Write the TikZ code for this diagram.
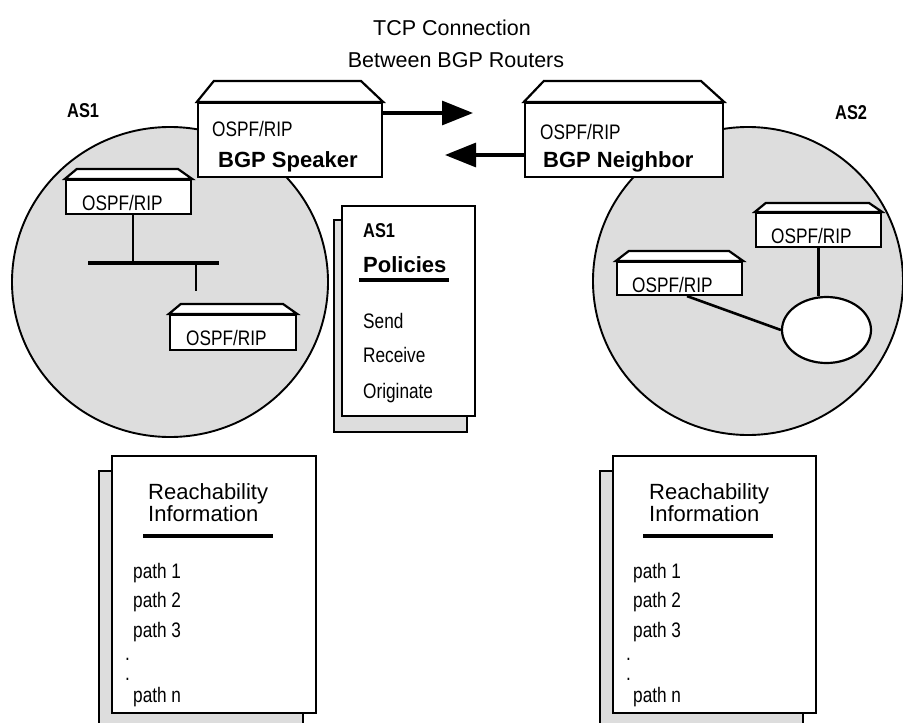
\documentclass[tikz,border=0pt]{standalone}
\usepackage{fontspec}
\setmainfont{Liberation Sans}
\newfontfamily\narrowfont[FakeStretch=0.82]{Liberation Sans}
\usetikzlibrary{arrows.meta,shapes.geometric}

\tikzset{
  area/.style={draw, line width=1.9pt, fill=gray!27},
  router/.style={draw, line width=2.2pt, fill=white, inner sep=0pt},
  sheet/.style={draw, line width=2.2pt, fill=white, inner sep=0pt},
  sheetshadow/.style={sheet, fill=gray!27},
  link/.style={line width=2.6pt},
  bus/.style={line width=3.4pt},
  thinlink/.style={line width=1.4pt},
  headrule/.style={line width=3.4pt},
  tcparrow/.style={line width=3.2pt, -{Triangle[length=31pt,width=24pt]}},
  txt/.style={inner sep=0pt, font=\fontsize{21.5}{24}\selectfont},
  lbl/.style={inner sep=0pt, anchor=base west, font=\narrowfont\fontsize{21}{24}\selectfont},
  boldlbl/.style={inner sep=0pt, anchor=base west, font=\bfseries\fontsize{22}{24}\selectfont},
  aslbl/.style={inner sep=0pt, anchor=base west, font=\narrowfont\bfseries\fontsize{20}{22}\selectfont},
  reachlbl/.style={inner sep=0pt, anchor=base west, font=\fontsize{22}{24}\selectfont}
}

\begin{document}
\begin{tikzpicture}[x=1pt, y=-1pt]
  \clip (0,0) rectangle (903,723);

  % TCP label
  \node[txt, anchor=base] (tcp1) at (452,35) {TCP Connection};
  \node[txt, anchor=base] (tcp2) at (456,67) {Between BGP Routers};

  % AS1 area
  \draw[area] (170,282) ellipse (158pt and 155pt);
  \node[aslbl] (as1) at (67,117) {AS1};

  % AS2 area
  \draw[area] (748,281) ellipse (155pt and 154pt);
  \node[aslbl] (as2) at (835,119) {AS2};

  % BGP speaker
  \node[router, minimum width=184pt, minimum height=74pt] (spk) at (290,140) {};
  \draw[router] (spk.north west) -- ++(17,-21) -- ++(147,0) -- (spk.north east) -- cycle;
  \node[lbl] (spkA) at (212,136) {OSPF/RIP};
  \node[boldlbl] (spkB) at (218,167) {BGP Speaker};

  % BGP neighbor
  \node[router, minimum width=198pt, minimum height=74pt] (nbr) at (624,140) {};
  \draw[router] (nbr.north west) -- ++(20,-21) -- ++(157,0) -- (nbr.north east) -- cycle;
  \node[lbl] (nbrA) at (540,139) {OSPF/RIP};
  \node[boldlbl] (nbrB) at (543,167) {BGP Neighbor};

  % TCP connection
  \coordinate (tipR) at (473,113);
  \coordinate (tipL) at (445,155);
  \draw[tcparrow] (spk.east |- tipR) -- (tipR);
  \draw[tcparrow] (nbr.west |- tipL) -- (tipL);

  % AS1 routers
  \node[router, minimum width=125pt, minimum height=34pt] (r1) at (128.5,197) {};
  \draw[router] (r1.north west) -- ++(12,-10) -- ++(101,0) -- (r1.north east) -- cycle;
  \node[lbl] (r1t) at (82,210) {OSPF/RIP};

  \node[router, minimum width=126pt, minimum height=35pt] (r2) at (233,332.5) {};
  \draw[router] (r2.north west) -- ++(12,-10) -- ++(102,0) -- (r2.north east) -- cycle;
  \node[lbl] (r2t) at (186,345) {OSPF/RIP};

  % AS1 network
  \coordinate (busL) at (88,263);
  \coordinate (busR) at (219,263);
  \coordinate (tap1) at (133,263);
  \coordinate (tap2) at (196,263);
  \coordinate (stub) at (196,291);
  \draw[bus] (busL) -- (busR);
  \draw[link] (r1.south -| tap1) -- (tap1);
  \draw[thinlink] (tap2) -- (stub);

  % AS2 routers
  \node[router, minimum width=125pt, minimum height=34pt] (rA) at (818.5,230) {};
  \draw[router] (rA.north west) -- ++(11,-9) -- ++(103,0) -- (rA.north east) -- cycle;
  \node[lbl] (rAt) at (771,243) {OSPF/RIP};

  \node[router, minimum width=125pt, minimum height=33pt] (rB) at (679.5,278.5) {};
  \draw[router] (rB.north west) -- ++(13,-10) -- ++(100,0) -- (rB.north east) -- cycle;
  \node[lbl] (rBt) at (632,292) {OSPF/RIP};

  % AS2 network
  \node[router, ellipse, minimum width=89pt, minimum height=66pt] (hub) at (826.5,330) {};
  \draw[link] (rA.south) -- (rA.south |- hub.north);
  \draw[link] ([xshift=7.5pt]rB.south) -- (hub.west);

  % AS1 policies
  \node[sheetshadow, minimum width=133pt, minimum height=212pt] (polback) at (400.5,326) {};
  \node[sheet, minimum width=133pt, minimum height=210pt] (pol) at (408.5,311) {};
  \node[aslbl] (polA) at (363,237) {AS1};
  \node[boldlbl] (polB) at (363,272) {Policies};
  \draw[headrule] (359,280) -- (449,280);
  \node[lbl] (send) at (363,328) {Send};
  \node[lbl] (recv) at (363,362) {Receive};
  \node[lbl] (orig) at (363,398) {Originate};

  % AS1 reachability
  \node[sheetshadow, minimum width=204pt, minimum height=258pt] (reach1back) at (201,600) {};
  \node[sheet, minimum width=204pt, minimum height=257pt] (reach1) at (214,584.5) {};
  \node[reachlbl] (reach1a) at (148,499) {Reachability};
  \node[reachlbl] (reach1b) at (148,521) {Information};
  \draw[headrule] (143,536) -- (273,536);
  \node[lbl] (p11) at (133,578) {path 1};
  \node[lbl] (p12) at (133,607) {path 2};
  \node[lbl] (p13) at (133,637) {path 3};
  \node[lbl] (d11) at (125,660) {.};
  \node[lbl] (d12) at (125,680) {.};
  \node[lbl] (p1n) at (133,702) {path n};

  % AS2 reachability
  \node[sheetshadow, minimum width=203pt, minimum height=258pt] (reach2back) at (701.5,600) {};
  \node[sheet, minimum width=203pt, minimum height=257pt] (reach2) at (714.5,584.5) {};
  \node[reachlbl] (reach2a) at (649,499) {Reachability};
  \node[reachlbl] (reach2b) at (649,521) {Information};
  \draw[headrule] (643,536) -- (773,536);
  \node[lbl] (p21) at (633,578) {path 1};
  \node[lbl] (p22) at (633,607) {path 2};
  \node[lbl] (p23) at (633,637) {path 3};
  \node[lbl] (d21) at (626,660) {.};
  \node[lbl] (d22) at (626,680) {.};
  \node[lbl] (p2n) at (633,702) {path n};

\end{tikzpicture}
\end{document}
